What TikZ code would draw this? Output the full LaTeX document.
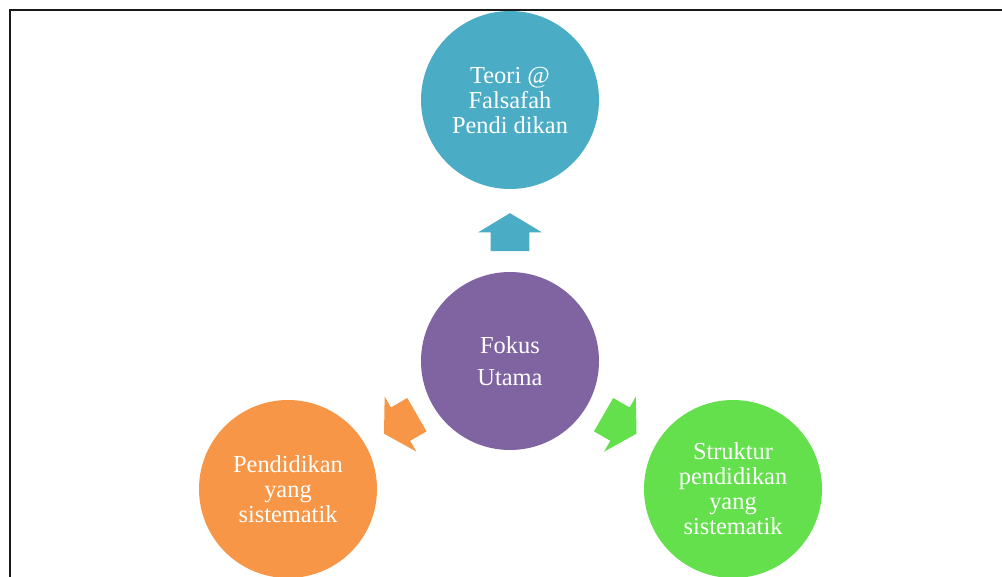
\documentclass[tikz,border=0pt]{standalone}
\usepackage{fontspec}
\setmainfont{Liberation Serif}
\usetikzlibrary{shapes.arrows,calc}
\definecolor{biru}{RGB}{75,172,198}
\definecolor{ungu}{RGB}{128,100,162}
\definecolor{oren}{RGB}{247,150,70}
\definecolor{hijau}{RGB}{100,224,76}

\begin{document}
\begin{tikzpicture}[x=0.75pt,y=-0.75pt,
  bulat/.style={circle, minimum size=133.5pt, inner sep=0pt, text=white, align=center,
    font=\fontsize{18.3}{18.75}\selectfont},
  panah/.style={single arrow, minimum height=28.5pt, inner xsep=0pt, inner ysep=14.25pt,
    single arrow head extend=9.4pt, single arrow tip angle=118}]
\useasboundingbox (0,0) rectangle (1002,577);
\draw[line width=1.4pt, black!90] (10,577) -- (10,10) -- (1002,10);
% bulatan
\node[bulat, fill=ungu] (pusat) at (510,361) {Fokus\\[5pt]Utama};
\foreach \n/\pos/\col/\txt in {atas/{(510,100)}/biru/{Teori @\\Falsafah\\Pendi dikan},
    kiri/{(288,489)}/oren/{Pendidikan\\yang\\sistematik},
    kanan/{(733,489)}/hijau/{Struktur\\pendidikan\\yang\\sistematik}}
  \node[bulat, fill=\col] (\n) at \pos {\txt};
% anak panah
\foreach \n/\col/\a in {atas/biru/90, kiri/oren/210, kanan/hijau/330}
  \node[panah, fill=\col, rotate=\a] (p\n) at ($(pusat)!0.5!(\n)!5.6pt!(pusat)$) {};
\end{tikzpicture}
\end{document}
